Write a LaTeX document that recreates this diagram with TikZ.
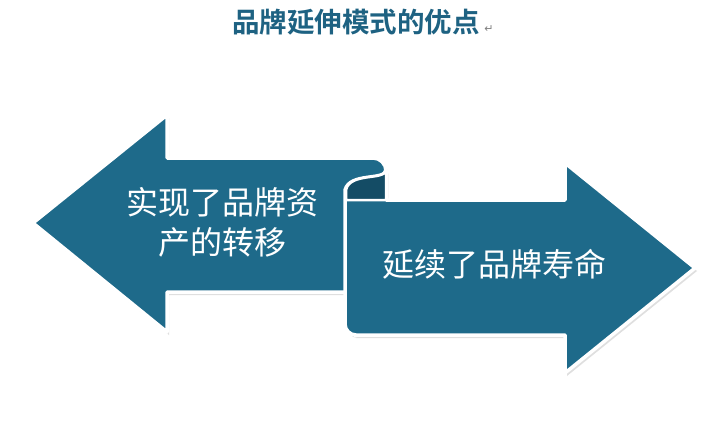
\documentclass[tikz,border=0pt]{standalone}
\usepackage{fontspec}
\usetikzlibrary{positioning,shadows}
\newfontfamily\cjk{Noto Sans CJK SC}
\newfontfamily\cjkbold{Noto Sans CJK SC Bold}
\newfontfamily\sym{DejaVu Sans}
\definecolor{tealmain}{RGB}{30,106,138}
\definecolor{tealdark}{RGB}{20,76,101}
\definecolor{titleblue}{RGB}{30,98,130}
\begin{document}
\begin{tikzpicture}[x=1pt, y=-1pt,
    bigarrow/.style = {fill=tealmain, draw=white, line width=3.5pt, line join=round,
                    drop shadow={shadow xshift=2pt, shadow yshift=-3pt, opacity=0.25}},
    curl/.style = {fill=tealdark, draw=white, line width=2.5pt, line join=round},
    label/.style = {text=white, align=center, font=\cjk\fontsize{32}{40}\selectfont}]
    \useasboundingbox (0,0) rectangle (711,423);
    \node[text=titleblue, font=\cjkbold\fontsize{27.5}{32}\selectfont] (title) at (356,22) {品牌延伸模式的优点};
    \node[text=gray, font=\sym\fontsize{11}{12}\selectfont, anchor=base west, inner sep=0pt] (mark) at ([xshift=1pt]title.base east) {↵};
    % left arrow
    \draw[bigarrow] (33,223) -- (167,115) -- (167,158)
        {[rounded corners=13pt] -- (386,158) -- (386,185)} -- (386,292)
        -- (167,292) -- (167,332) -- cycle;
    % right arrow with the curl
    \draw[bigarrow] (345,190) {[rounded corners=11pt] -- (345,335) -- (365,335)}
        -- (565,335) -- (565,373) -- (695,268) -- (565,163) -- (565,200)
        -- (386,200) -- (386,170) .. controls (385,181) and (350,172) .. (345,190) -- cycle;
    \draw[curl] (346,200) -- (346,190) .. controls (350,172) and (385,181) .. (386,170) -- (386,200) -- cycle;
    \node[label] (asset) at (222,222) {实现了品牌资\\产的转移};
    \node[label] (life) at (494,264) {延续了品牌寿命};
\end{tikzpicture}
\end{document}
